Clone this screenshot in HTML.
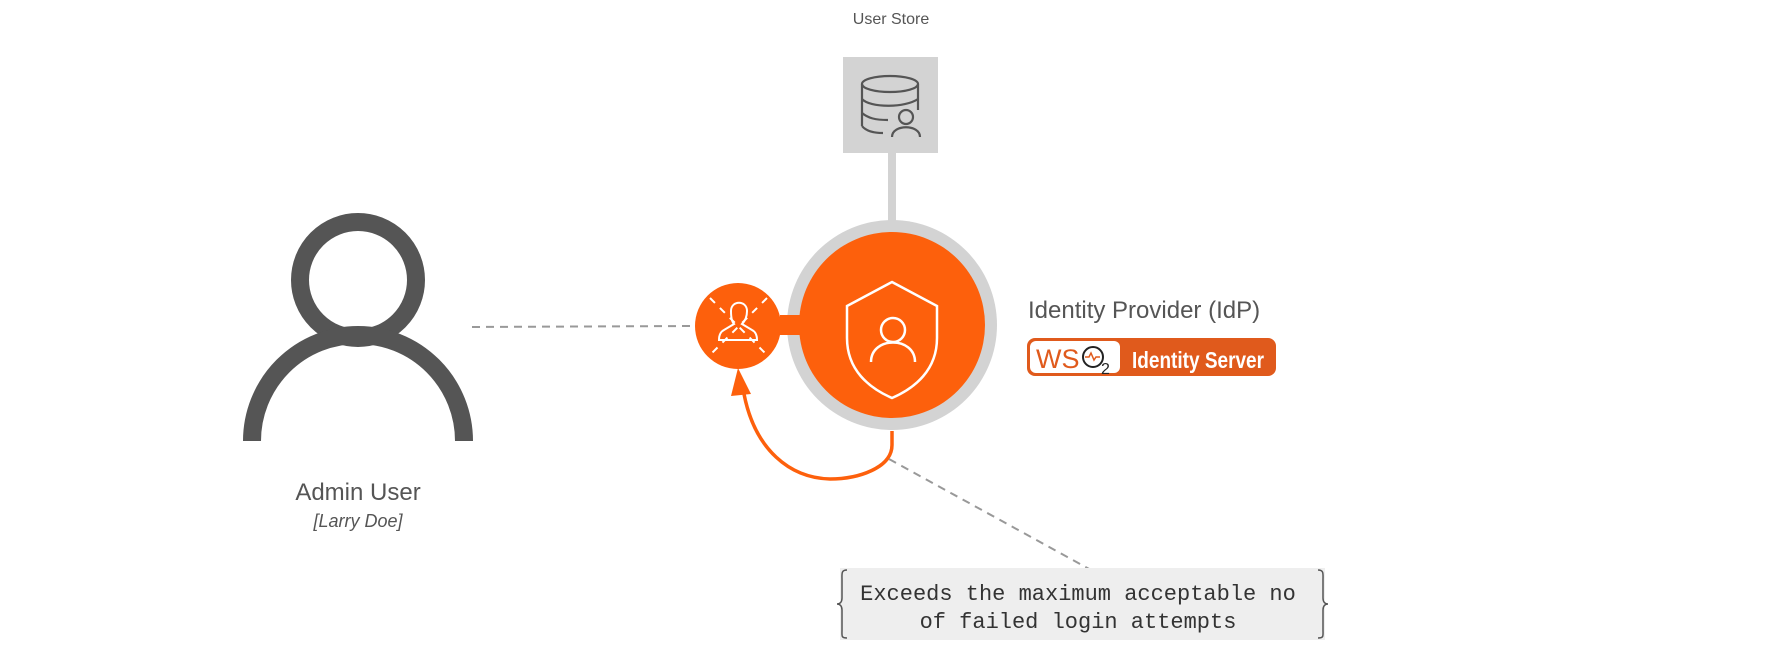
<!DOCTYPE html>
<html><head><meta charset="utf-8"><style>
html,body{margin:0;padding:0;background:#fff;}
body{width:1792px;height:648px;overflow:hidden;position:relative;font-family:"Liberation Sans",sans-serif;}
</style></head><body>
<svg width="1792" height="648" viewBox="0 0 1792 648" xmlns="http://www.w3.org/2000/svg" style="position:absolute;left:0;top:0">
<text x="891" y="24" font-size="16" fill="#555" text-anchor="middle" font-family="Liberation Sans">User Store</text>
<rect x="843" y="57" width="95" height="96" fill="#d3d3d3"/>
<g fill="none" stroke="#555" stroke-width="2.2">
<ellipse cx="890" cy="84" rx="28" ry="8"/>
<path d="M862 84 V126 M918 84 V110 M862 99 C870 108 905 108 918 99 M862 113 C868 118 875 120 888 120 M862 126 C866 131 873 133 883 133"/>
<circle cx="906" cy="117" r="7"/>
<path d="M892 137 C892 124 920 124 920 137"/>
</g>
<rect x="888" y="153" width="8" height="70" fill="#d3d3d3"/>
<circle cx="892" cy="325" r="105" fill="#d3d3d3"/>
<circle cx="892" cy="325" r="93" fill="#fd600c"/>
<rect x="780" y="315" width="22" height="20" fill="#fd600c"/>
<circle cx="738" cy="326" r="43" fill="#fd600c"/>
<g fill="none" stroke="#fff" stroke-width="2.5">
<path d="M892 282 L937 306 V338 C937 370 915 388 892 398 C869 388 847 370 847 338 V306 Z"/>
<circle cx="893" cy="330" r="12"/>
<path d="M871 362 C871 336 915 336 915 362"/>
</g>
<g fill="none" stroke="#fff" stroke-width="2">
<path d="M731 311 C731 300 747 300 747 311 C747 318 744 322 742 324 L752 330 C756 332 757 336 757 340 H719 C719 336 720 332 724 330 L734 324 C732 322 731 318 731 311 Z"/>
<path d="M710 298 L767 355 M767 298 L710 355" stroke-dasharray="7 7"/>
</g>
<path d="M892 431 V445 C892 468 858 479 830 479 C790 478 755 450 744 394" fill="none" stroke="#fd600c" stroke-width="3.5"/>
<polygon points="738,368 731,396 751,394" fill="#fd600c"/>
<line x1="472" y1="327" x2="695" y2="326" stroke="#999" stroke-width="2" stroke-dasharray="8 6"/>
<line x1="889" y1="459" x2="1091" y2="570" stroke="#999" stroke-width="2" stroke-dasharray="8 6"/>
<circle cx="358" cy="280" r="58" fill="none" stroke="#555" stroke-width="18"/>
<path d="M252 441 A106 106 0 0 1 464 441" fill="none" stroke="#555" stroke-width="18"/>
<text x="358" y="500" font-size="24" fill="#555" text-anchor="middle">Admin User</text>
<text x="358" y="527" font-size="18" fill="#555" font-style="italic" text-anchor="middle">[Larry Doe]</text>
<text x="1028" y="318" font-size="24" fill="#555">Identity Provider (IdP)</text>
<rect x="1027" y="338" width="249" height="38" rx="8" fill="#e05a1c"/>
<rect x="1030" y="341" width="90" height="32" rx="6" fill="#fff"/>
<text x="1036" y="368" font-size="27" fill="#e05a1c" font-family="Liberation Sans">WS</text>
<circle cx="1093" cy="357" r="10" fill="none" stroke="#222" stroke-width="2"/>
<path d="M1085 357 h4 l2 -4 l3 7 l2 -3 h4" fill="none" stroke="#e05a1c" stroke-width="1.5"/>
<text x="1101" y="374" font-size="16" fill="#222">2</text>
<text x="1132" y="368" font-size="23" fill="#fff" font-weight="bold" font-family="Liberation Sans Narrow, Liberation Sans" textLength="132" lengthAdjust="spacingAndGlyphs">Identity Server</text>
<rect x="840" y="568" width="485" height="72" fill="#eeeeee"/>
<path d="M847 570 C841 570 842 574 842 580 V598 C842 602 840 604 837 604 C840 604 842 606 842 610 V630 C842 636 841 638 847 638" fill="none" stroke="#555" stroke-width="1.5"/>
<path d="M1318 570 C1324 570 1323 574 1323 580 V598 C1323 602 1325 604 1328 604 C1325 604 1323 606 1323 610 V630 C1323 636 1324 638 1318 638" fill="none" stroke="#555" stroke-width="1.5"/>
<text x="1078" y="600" font-size="22" fill="#333" text-anchor="middle" font-family="Liberation Mono">Exceeds the maximum acceptable no</text>
<text x="1078" y="628" font-size="22" fill="#333" text-anchor="middle" font-family="Liberation Mono">of failed login attempts</text>
</svg>
</body></html>
